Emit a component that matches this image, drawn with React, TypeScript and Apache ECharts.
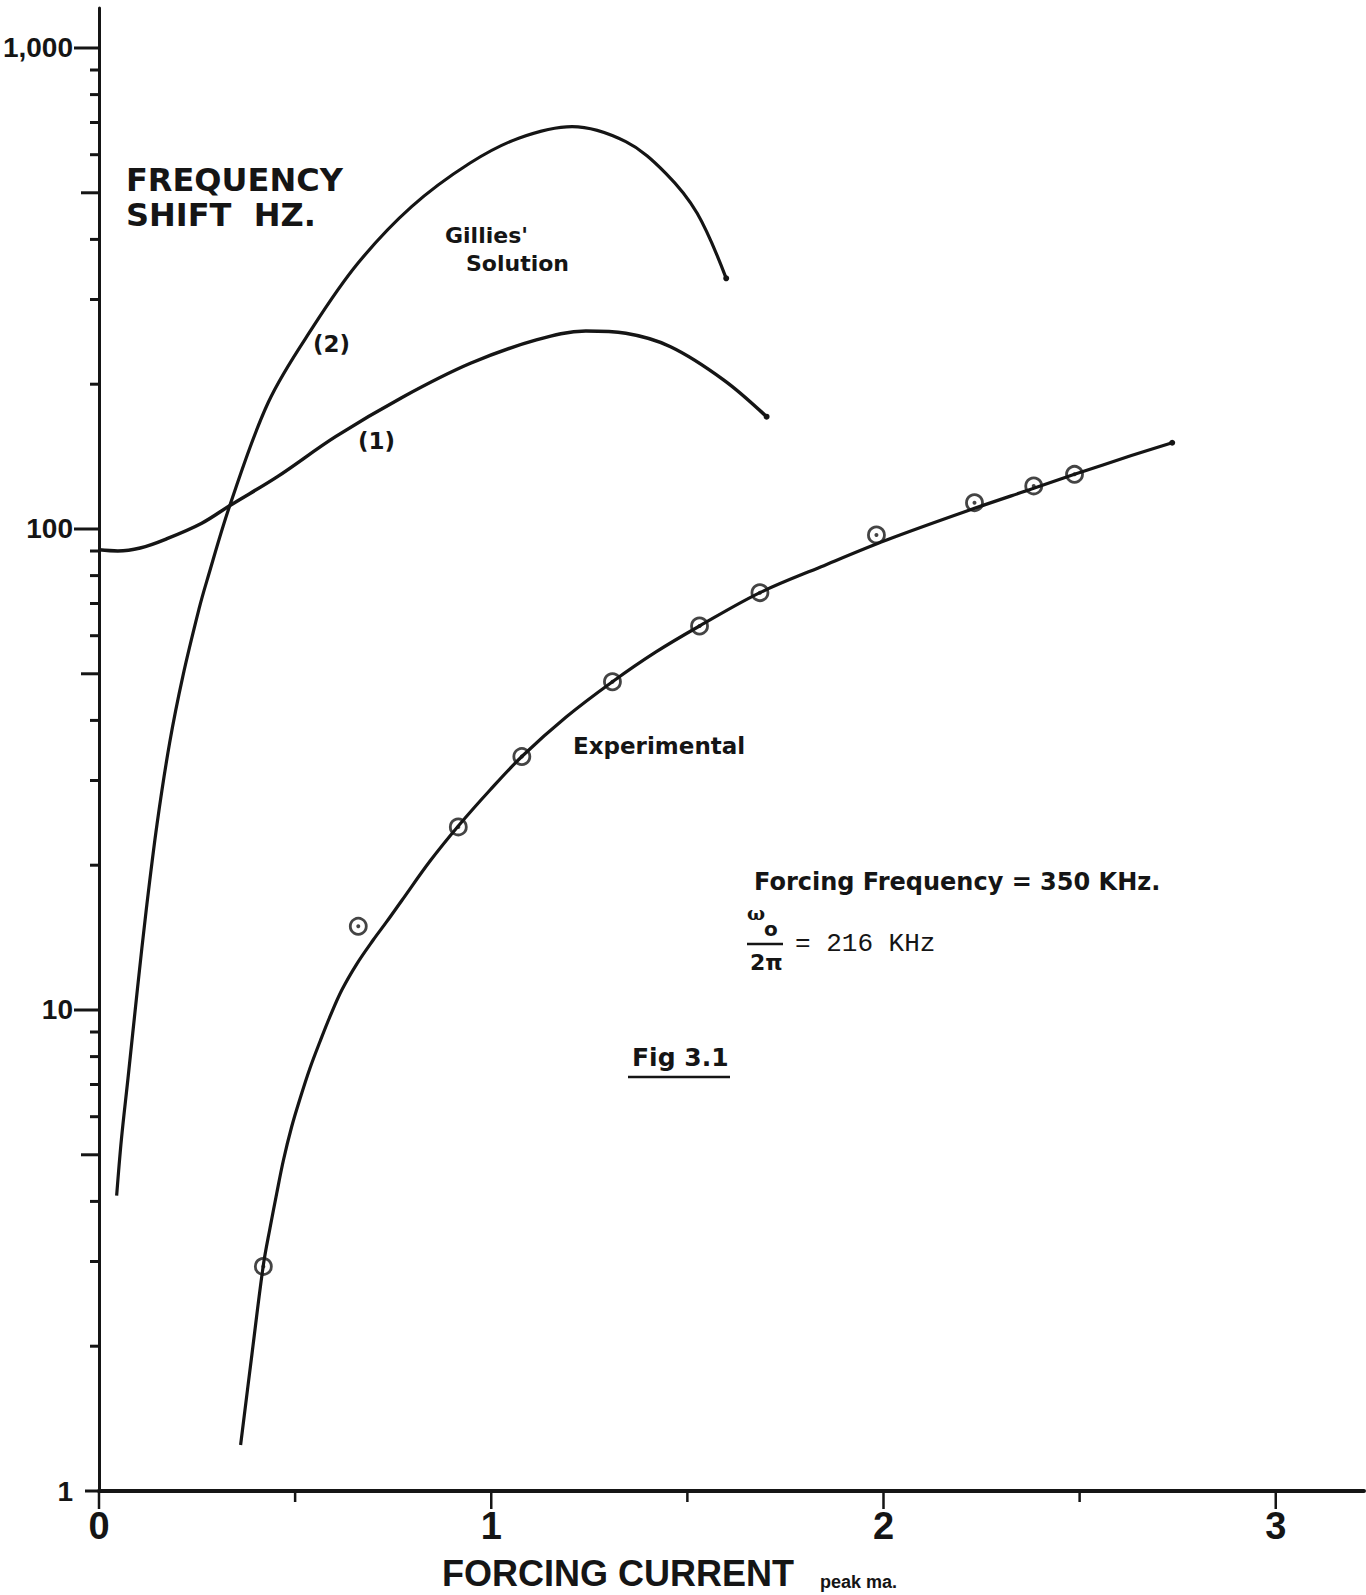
import { useEffect, useRef } from "react";
import * as echarts from "echarts";

// ---- data (x: forcing current, peak mA; y: frequency shift, Hz) ----
const gilliesCurve1: number[][] = [
  [0.0, 90.5], [0.048, 90.0], [0.105, 91.3], [0.171, 95.3], [0.262, 102.8], [0.336, 112.2],
  [0.455, 128.5], [0.603, 155.6], [0.776, 188.4], [0.947, 221.1], [1.115, 247.2],
  [1.241, 258], [1.343, 255.2], [1.457, 239.3], [1.593, 204], [1.702, 171.2],
];
const gilliesCurve2: number[][] = [
  [0.045, 4.11], [0.057, 5.37], [0.074, 7.22], [0.098, 11.06], [0.121, 16.3], [0.148, 24.37],
  [0.18, 35.9], [0.214, 49.5], [0.255, 68.2], [0.275, 78.0], [0.334, 112.2], [0.432, 183.7],
  [0.546, 263.4], [0.66, 356.8], [0.797, 467.9], [0.945, 575.9], [1.07, 649.2],
  [1.206, 686.2], [1.343, 638.6], [1.445, 549], [1.525, 453.3], [1.599, 332],
];
const experimentalCurve: number[][] = [
  [0.361, 1.246], [0.39, 1.927], [0.419, 2.95], [0.436, 3.523], [0.453, 4.155], [0.47, 4.865],
  [0.491, 5.712], [0.513, 6.561], [0.538, 7.575], [0.564, 8.621], [0.589, 9.694],
  [0.619, 11.0], [0.657, 12.46], [0.699, 13.98], [0.734, 15.28], [0.772, 16.89],
  [0.844, 20.4], [0.916, 24.13], [0.997, 28.67], [1.078, 33.65], [1.191, 40.65],
  [1.309, 48.13], [1.42, 55.51], [1.531, 62.85], [1.685, 73.73], [1.841, 83.48],
  [2.008, 94.87], [2.232, 110.4], [2.383, 121.5], [2.487, 129.9], [2.632, 142.1],
  [2.736, 151.1],
];
const experimentalPoints: number[][] = [
  [0.419, 2.93], [0.661, 14.93], [0.916, 24.02], [1.078, 33.65], [1.309, 48.13], [1.531, 62.85],
  [1.685, 73.73], [1.982, 97.2], [2.232, 113.4], [2.383, 122.9], [2.487, 129.9],
];
const xTickValues: number[] = [0, 0.5, 1, 1.5, 2, 2.5, 3];
const xTickLabels: string[] = ["0", "1", "2", "3"];
const yTickValues: number[] = [
  1, 2, 3, 4, 5, 6, 7, 8, 9,
  10, 20, 30, 40, 50, 60, 70, 80, 90,
  100, 200, 300, 400, 500, 600, 700, 800, 900,
  1000,
];
const yTickLabels: string[] = ["1", "10", "100", "1,000"];

const INK = "#151515";
const X_MAX = 3.225;
const Y_MAX = 1211;

function isInt(v: number) {
  return Math.abs(v - Math.round(v)) < 1e-6;
}

function curveSeries(name: string, pts: number[][], width: number) {
  return {
    type: "line",
    name,
    smooth: 0.35,
    symbol: "circle",
    symbolSize: 6,
    showSymbol: true,
    silent: true,
    z: 3,
    itemStyle: { color: INK },
    lineStyle: { color: INK, width },
    data: pts.map((p, i) =>
      i === pts.length - 1 ? { value: p } : { value: p, symbol: "none" }
    ),
  };
}

function txt(text: string, x: number, y: number, font: string, extra: any = {}) {
  return {
    type: "text",
    x,
    y,
    silent: true,
    z: 10,
    style: { text, font, fill: INK, align: "left", verticalAlign: "middle", ...extra },
  };
}

export default function App() {
  const ref = useRef<HTMLDivElement>(null);

  useEffect(() => {
    document.body.style.margin = "0";
    const chart = echarts.init(ref.current!, null, { renderer: "svg" });

    const sansBold = '"DejaVu Sans", sans-serif';
    const narrow = '"Liberation Sans Narrow", "Liberation Sans", Arial, sans-serif';

    const option: any = {
      animation: false,
      backgroundColor: "#ffffff",
      grid: {
        left: 99,
        top: 8,
        right: 1366 - 99 - 1265,
        bottom: 1595 - 1491,
        containLabel: false,
        outerBoundsMode: "none",
      },
      xAxis: {
        type: "value",
        min: 0,
        max: X_MAX,
        interval: 0.5,
        splitLine: { show: false },
        axisTick: { show: false },
        axisLine: { show: true, onZero: false, lineStyle: { color: INK, width: 4 } },
        axisLabel: {
          show: true,
          margin: 16,
          color: INK,
          fontFamily: narrow,
          fontWeight: "bold",
          fontSize: 38,
          formatter: (v: number) => {
            if (!isInt(v)) return "";
            const i = Math.round(v);
            return xTickLabels[i] ?? "";
          },
        },
      },
      yAxis: {
        type: "log",
        logBase: 10,
        min: 1,
        max: Y_MAX,
        splitLine: { show: false },
        minorTick: { show: false },
        axisTick: { show: false },
        axisLine: { show: true, lineStyle: { color: INK, width: 3 } },
        axisLabel: {
          show: true,
          margin: 26,
          color: INK,
          fontFamily: narrow,
          fontWeight: "bold",
          fontSize: 28,
          formatter: (v: number) => {
            const lg = Math.log10(v);
            if (!isInt(lg)) return "";
            return yTickLabels[Math.round(lg)] ?? "";
          },
        },
      },
      series: [
        // x-axis ticks (drawn below the axis)
        {
          type: "custom",
          coordinateSystem: "cartesian2d",
          clip: false,
          silent: true,
          z: 6,
          data: xTickValues.map((v) => [v, 1]),
          renderItem: (_p: any, api: any) => {
            const v = api.value(0);
            const pt = api.coord([v, 1]);
            const len = isInt(v) ? 18 : 11;
            return {
              type: "line",
              shape: { x1: pt[0], y1: pt[1], x2: pt[0], y2: pt[1] + len },
              style: { stroke: INK, lineWidth: 2.5 },
            };
          },
        },
        // y-axis ticks (drawn left of the axis)
        {
          type: "custom",
          coordinateSystem: "cartesian2d",
          clip: false,
          silent: true,
          z: 6,
          data: yTickValues.map((v) => [0, v]),
          renderItem: (_p: any, api: any) => {
            const v = api.value(1);
            const pt = api.coord([0, v]);
            const lg = Math.log10(v);
            const lead = v / Math.pow(10, Math.floor(lg + 1e-9));
            let len = 9;
            if (isInt(lg)) len = v === 1 ? 14 : 25;
            else if (Math.abs(lead - 5) < 1e-6) len = 18;
            return {
              type: "line",
              shape: { x1: pt[0] - len, y1: pt[1], x2: pt[0], y2: pt[1] },
              style: { stroke: INK, lineWidth: 3 },
            };
          },
        },
        curveSeries("Gillies (1)", gilliesCurve1, 3.5),
        curveSeries("Gillies (2)", gilliesCurve2, 3.2),
        curveSeries("Experimental", experimentalCurve, 3.2),
        {
          type: "scatter",
          name: "Experimental points",
          data: experimentalPoints,
          symbol: "circle",
          symbolSize: 16,
          silent: true,
          z: 4,
          itemStyle: { color: "rgba(255,255,255,0)", borderColor: INK, borderWidth: 2.8 },
        },
        {
          type: "scatter",
          name: "Experimental centres",
          data: experimentalPoints,
          symbol: "circle",
          symbolSize: 4,
          silent: true,
          z: 5,
          itemStyle: { color: INK },
        },
      ],
      graphic: [
        txt("FREQUENCY\nSHIFT  HZ.", 126, 197, `bold 32px ${sansBold}`, { lineHeight: 35 }),
        txt("Gillies'", 445, 235, `bold 22px ${sansBold}`),
        txt("Solution", 466, 263, `bold 22px ${sansBold}`),
        txt("(2)", 313, 344, `bold 23px ${sansBold}`),
        txt("(1)", 358, 441, `bold 23px ${sansBold}`),
        txt("Experimental", 573, 746, `bold 23px ${sansBold}`),
        txt("Forcing Frequency = 350 KHz.", 754, 882, `bold 24px ${sansBold}`),
        txt("ω", 747, 913, `bold 19px "DejaVu Serif", serif`),
        txt("o", 764, 929, `bold 20px ${sansBold}`),
        {
          type: "line",
          silent: true,
          z: 10,
          shape: { x1: 747, y1: 944, x2: 783, y2: 944 },
          style: { stroke: INK, lineWidth: 2.5 },
        },
        txt("2π", 750, 962, `bold 22px ${sansBold}`),
        txt("= 216 KHz", 795, 944, `26px "Liberation Mono", monospace`),
        txt("Fig 3.1", 632, 1057, `bold 25px ${sansBold}`),
        {
          type: "line",
          silent: true,
          z: 10,
          shape: { x1: 628, y1: 1077, x2: 730, y2: 1077 },
          style: { stroke: INK, lineWidth: 2.5 },
        },
        txt("FORCING CURRENT", 442, 1573, `bold 36px "Liberation Sans", Arial, sans-serif`),
        txt("peak ma.", 820, 1582, `bold 18px "Liberation Sans", Arial, sans-serif`),
      ],
    };

    chart.setOption(option);
    return () => chart.dispose();
  }, []);

  return <div ref={ref} style={{ width: 1366, height: 1595, background: "#fff" }} />;
}
